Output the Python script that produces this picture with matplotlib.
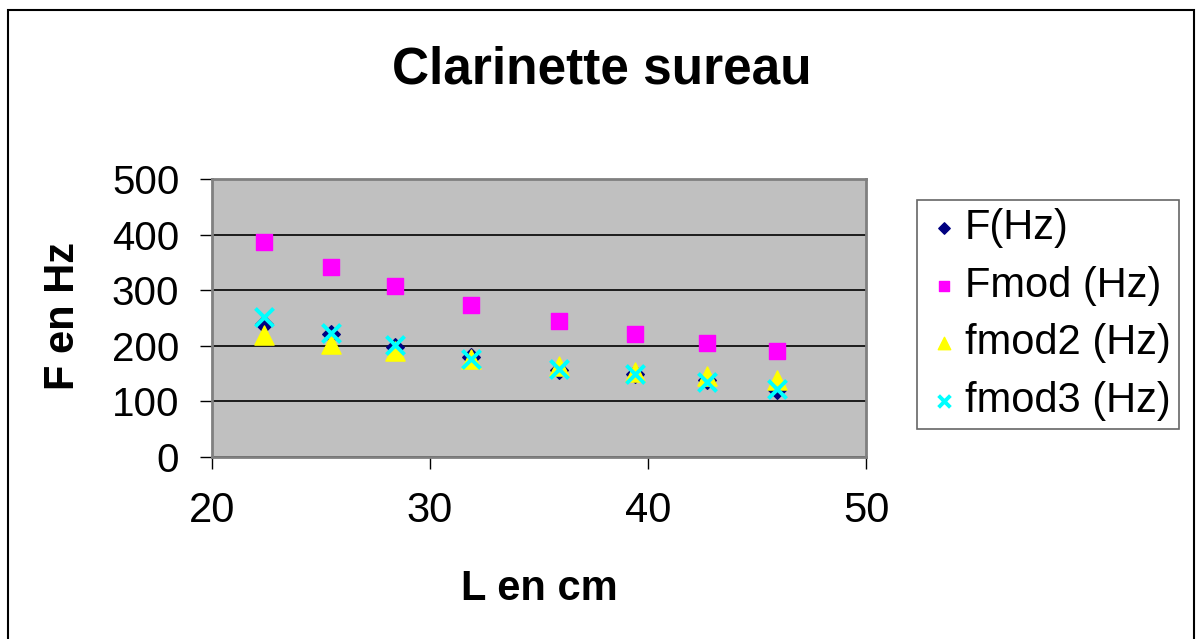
import numpy as np
import matplotlib.pyplot as plt
from matplotlib.patches import Rectangle

plt.rcParams['font.family'] = ['Liberation Sans', 'DejaVu Sans']

#%% Data: pipe length (cm) and frequencies (Hz)
L_cm   = [22.4, 25.45, 28.4, 31.9, 35.9, 39.4, 42.7, 45.9]
F_Hz   = [239, 222, 198, 179, 156, 149, 138, 120]
Fmod   = [387, 342, 307, 273, 244, 221, 205, 191]
fmod2  = [219, 203, 190, 177, 163, 153, 145, 138]
fmod3  = [252, 223, 201, 177, 158, 150, 135, 123]

y_ticks = [0, 100, 200, 300, 400, 500]
x_ticks = [20, 30, 40, 50]

W, H = 1200, 639

#%% Figure and outer frame
fig = plt.figure(figsize=(W/100, H/100), dpi=100)
fig.patches.append(Rectangle((8/W, -0.05), 1186/W, 1.05 - 10/H,
                             transform=fig.transFigure, fill=False,
                             edgecolor='black', linewidth=1.5))

ax = fig.add_axes([212/W, 1 - 457/H, 654/W, 278/H])
ax.set_facecolor('#C0C0C0')
for s in ax.spines.values():
    s.set_color('#808080')
    s.set_linewidth(2)

ax.set_xlim(20, 50)
ax.set_ylim(0, 500)
ax.set_xticks(x_ticks)
ax.set_yticks(y_ticks)
ax.yaxis.grid(True, color='black', linewidth=1.2)
ax.set_axisbelow(True)
ax.tick_params(axis='both', length=8.5, width=1, color='black', direction='out')
ax.tick_params(axis='x', labelsize=30, pad=16)
ax.tick_params(axis='y', labelsize=29, pad=15)

#%% Series
ax.scatter(L_cm, F_Hz, marker='D', s=80, color='#000080', label='F(Hz)', zorder=3)
ax.scatter(L_cm, Fmod, marker='s', s=130, color='#FF00FF', label='Fmod (Hz)', zorder=3)
ax.scatter(L_cm, fmod2, marker='^', s=190, color='#FFFF00', label='fmod2 (Hz)', zorder=4)
ax.scatter(L_cm, fmod3, marker='x', s=170, color='#00FFFF', linewidths=2.8, label='fmod3 (Hz)', zorder=5)

#%% Texts
fig.text(602/W, 1 - 83/H, 'Clarinette sureau', fontsize=37, fontweight='bold',
         ha='center', va='baseline')
fig.text(539/W, 1 - 589/H, 'L en cm', fontsize=30, fontweight='bold',
         ha='center', va='center')
fig.text(63/W, 1 - 316/H, 'F en Hz', fontsize=30, fontweight='bold',
         ha='center', va='center', rotation=90)

leg = ax.legend(loc='upper left', bbox_to_anchor=(917/W, 1 - 200/H),
                bbox_transform=fig.transFigure, fontsize=30, frameon=True,
                fancybox=False, borderpad=0.2, handletextpad=0.05,
                handlelength=0.9, labelspacing=0.42, markerscale=0.65,
                borderaxespad=0)
leg.get_frame().set_edgecolor('#404040')
leg.get_frame().set_linewidth(1.2)

fig.savefig('out.png', dpi=100)
